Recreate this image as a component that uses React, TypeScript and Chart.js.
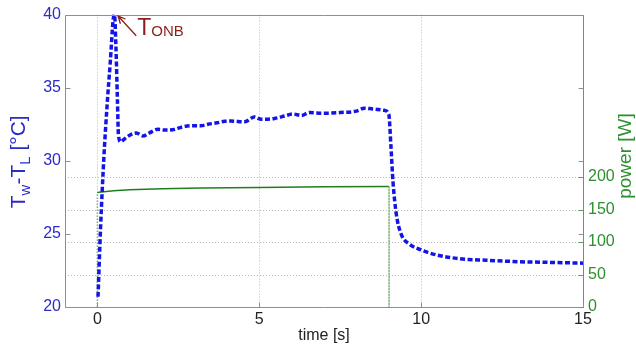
import { useEffect, useRef } from 'react';
import { Chart, registerables } from 'chart.js';

Chart.register(...registerables);

// Wall-to-liquid temperature difference over time
const timeS = [
  0.02, 0.1, 0.2, 0.3, 0.4, 0.49, 0.53, 0.57, 0.62, 0.65, 0.72, 0.84, 1.0, 1.2, 1.41, 1.6, 1.87,
  2.1, 2.39, 2.6, 2.9, 3.2, 3.42, 3.7, 3.93, 4.12, 4.55, 4.85, 5.06, 5.47, 5.78, 6.04, 6.3,
  6.55, 7.0, 7.5, 8.0, 8.25, 8.5, 8.87, 9.0, 9.07, 9.13, 9.23, 9.38, 9.64, 10.0, 10.5, 11.2,
  12.0, 13.0, 14.0, 15.0,
];
const tempDiffC = [
  20.7, 25.5, 30.2, 33.8, 36.8, 39.7, 40.0, 38.0, 34.1, 31.8, 31.3, 31.5, 31.75, 31.9, 31.7, 31.9, 32.15,
  32.1, 32.15, 32.3, 32.4, 32.4, 32.5, 32.6, 32.7, 32.72, 32.67, 33.0, 32.84, 32.9, 33.06, 33.2, 33.1,
  33.3, 33.25, 33.3, 33.4, 33.6, 33.55, 33.45, 33.2, 30.9, 28.6, 26.4, 25.0, 24.3, 23.9, 23.55, 23.3,
  23.2, 23.1, 23.05, 23.0,
];

// Heating power: switched on at 0 s, off at about 9 s
const powerTimeS = [0, 0, 0.05, 0.5, 1, 2, 3.2, 5, 7, 9.01, 9.01];
const powerW = [0, 176, 176.5, 179, 180.5, 182, 183, 184, 185, 185.5, 0];

const timeTicks = [0, 5, 10, 15];
const tempTicks = [20, 25, 30, 35, 40];
const powerTicks = [0, 50, 100, 150, 200];

const BLUE = '#1414e6';
const BLUE_TEXT = '#2b2bc8';
const GREEN = '#1f7f1f';
const GREEN_TEXT = '#2e8f2e';
const AXIS_GRAY = '#8f8f8f';
const GRID_GRAY = '#b8b8b8';
const RED = '#8c1e1e';
const FONT = '"Liberation Sans", Arial, sans-serif';

type Piece = { text: string; size: number; shift: number };

function drawPieces(ctx: CanvasRenderingContext2D, pieces: Piece[], color: string) {
  let total = 0;
  for (const p of pieces) {
    ctx.font = `${p.size}px ${FONT}`;
    total += ctx.measureText(p.text).width;
  }
  let x = -total / 2;
  ctx.fillStyle = color;
  ctx.textBaseline = 'alphabetic';
  ctx.textAlign = 'left';
  for (const p of pieces) {
    ctx.font = `${p.size}px ${FONT}`;
    ctx.fillText(p.text, x, p.shift);
    x += ctx.measureText(p.text).width;
  }
}

const framePlugin = {
  id: 'frame',
  beforeDatasetsDraw(chart: any) {
    const { ctx, chartArea: a, scales } = chart;
    const sx = scales.x;
    const sp = scales.y1;
    ctx.save();
    ctx.strokeStyle = GRID_GRAY;
    ctx.lineWidth = 1;
    ctx.setLineDash([1, 2]);
    for (const v of timeTicks) {
      const px = Math.round(sx.getPixelForValue(v)) + 0.5;
      if (px >= a.right - 1) continue;
      ctx.beginPath();
      ctx.moveTo(px, a.top);
      ctx.lineTo(px, a.bottom);
      ctx.stroke();
    }
    for (const v of powerTicks) {
      if (v === 0) continue;
      const py = Math.round(sp.getPixelForValue(v)) + 0.5;
      ctx.beginPath();
      ctx.moveTo(a.left, py);
      ctx.lineTo(a.right, py);
      ctx.stroke();
    }
    ctx.restore();
  },
  afterDatasetsDraw(chart: any) {
    const { ctx, chartArea: a, scales } = chart;
    const sx = scales.x;
    const st = scales.y;
    const sp = scales.y1;
    const L = Math.round(a.left) + 0.5;
    const R = Math.round(a.right) + 0.5;
    const T = Math.round(a.top) + 0.5;
    const B = Math.round(a.bottom) + 0.5;
    ctx.save();
    ctx.setLineDash([]);
    ctx.lineWidth = 1;

    // box
    ctx.strokeStyle = AXIS_GRAY;
    ctx.beginPath();
    ctx.moveTo(R, T);
    ctx.lineTo(L, T);
    ctx.lineTo(L, B);
    ctx.lineTo(R, B);
    ctx.stroke();
    ctx.strokeStyle = '#5aa05a';
    ctx.beginPath();
    ctx.moveTo(R, T);
    ctx.lineTo(R, B);
    ctx.stroke();

    // inward tick marks
    const len = 5;
    ctx.strokeStyle = AXIS_GRAY;
    for (const v of tempTicks) {
      const py = Math.round(st.getPixelForValue(v)) + 0.5;
      ctx.beginPath();
      ctx.moveTo(L, py);
      ctx.lineTo(L + len, py);
      ctx.moveTo(R, py);
      ctx.lineTo(R - len, py);
      ctx.stroke();
    }
    for (const v of timeTicks) {
      const px = Math.round(sx.getPixelForValue(v)) + 0.5;
      ctx.beginPath();
      ctx.moveTo(px, B);
      ctx.lineTo(px, B - len);
      ctx.stroke();
    }
    ctx.strokeStyle = '#5aa05a';
    for (const v of powerTicks) {
      const py = Math.round(sp.getPixelForValue(v)) + 0.5;
      ctx.beginPath();
      ctx.moveTo(R, py);
      ctx.lineTo(R - len, py);
      ctx.stroke();
    }

    // onset of nucleate boiling marker
    const hx = sx.getPixelForValue(0.64);
    const hy = st.getPixelForValue(39.9);
    const tx = sx.getPixelForValue(1.2);
    const ty = st.getPixelForValue(38.55);
    ctx.strokeStyle = RED;
    ctx.lineWidth = 1.3;
    ctx.beginPath();
    ctx.moveTo(tx, ty);
    ctx.lineTo(hx, hy);
    const ang = Math.atan2(hy - ty, hx - tx);
    const hl = 8;
    ctx.moveTo(hx - hl * Math.cos(ang - 0.45), hy - hl * Math.sin(ang - 0.45));
    ctx.lineTo(hx, hy);
    ctx.lineTo(hx - hl * Math.cos(ang + 0.45), hy - hl * Math.sin(ang + 0.45));
    ctx.stroke();
    ctx.fillStyle = RED;
    ctx.textAlign = 'left';
    ctx.textBaseline = 'alphabetic';
    ctx.font = `23px ${FONT}`;
    ctx.fillText('T', tx + 1, ty - 1);
    const tw = ctx.measureText('T').width;
    ctx.font = `15px ${FONT}`;
    ctx.fillText('ONB', tx + 1 + tw, ty);

    // left axis title
    ctx.save();
    ctx.translate(25, (a.top + a.bottom) / 2 + 1);
    ctx.rotate(-Math.PI / 2);
    drawPieces(
      ctx,
      [
        { text: 'T', size: 21, shift: 0 },
        { text: 'w', size: 15, shift: 5 },
        { text: '-T', size: 21, shift: 0 },
        { text: 'L', size: 15, shift: 5 },
        { text: ' [°C]', size: 21, shift: 0 },
      ],
      BLUE_TEXT
    );
    ctx.restore();

    // right axis title
    ctx.save();
    ctx.translate(631, 156);
    ctx.rotate(-Math.PI / 2);
    drawPieces(ctx, [{ text: 'power [W]', size: 19, shift: 0 }], GREEN_TEXT);
    ctx.restore();

    // bottom axis title
    ctx.save();
    ctx.translate((a.left + a.right) / 2, 340);
    drawPieces(ctx, [{ text: 'time [s]', size: 16, shift: 0 }], '#222');
    ctx.restore();

    ctx.restore();
  },
};

export default function App() {
  const canvasRef = useRef<HTMLCanvasElement | null>(null);

  useEffect(() => {
    const canvas = canvasRef.current;
    if (!canvas) return;
    const tempPoints = timeS.map((t, i) => ({ x: t, y: tempDiffC[i] }));
    const powerPoints = powerTimeS.map((t, i) => ({ x: t, y: powerW[i] }));

    const chart = new Chart(canvas, {
      type: 'line',
      data: {
        datasets: [
          {
            label: 'Tw-TL',
            data: tempPoints,
            yAxisID: 'y',
            borderColor: BLUE,
            borderWidth: 3.5,
            borderDash: [5, 2.5],
            borderCapStyle: 'butt',
            pointRadius: 0,
            cubicInterpolationMode: 'monotone',
            fill: false,
          },
          {
            label: 'power',
            data: powerPoints,
            yAxisID: 'y1',
            borderColor: GREEN,
            borderWidth: 1.5,
            pointRadius: 0,
            tension: 0,
            fill: false,
            segment: {
              borderDash: (c: any) => (c.p0.parsed.x === c.p1.parsed.x ? [1.5, 1.5] : undefined),
              borderColor: (c: any) => (c.p0.parsed.x === c.p1.parsed.x ? '#7fb27f' : undefined),
            },
          },
        ],
      },
      options: {
        animation: false,
        responsive: false,
        devicePixelRatio: 1,
        layout: { padding: { top: 13, left: 0, right: 0, bottom: 0 } },
        plugins: {
          legend: { display: false },
          tooltip: { enabled: false },
        },
        scales: {
          x: {
            type: 'linear',
            min: -1,
            max: 15,
            grid: { display: false, drawTicks: false },
            border: { display: false },
            afterBuildTicks: (s: any) => {
              s.ticks = timeTicks.map((v) => ({ value: v }));
            },
            afterFit: (s: any) => {
              s.height = 39;
            },
            ticks: {
              autoSkip: false,
              maxRotation: 0,
              padding: 3,
              color: '#222',
              font: { family: FONT, size: 16 },
            },
          },
          y: {
            type: 'linear',
            position: 'left',
            min: 20,
            max: 40,
            grid: { display: false, drawTicks: false },
            border: { display: false },
            afterBuildTicks: (s: any) => {
              s.ticks = tempTicks.map((v) => ({ value: v }));
            },
            afterFit: (s: any) => {
              s.width = 65;
            },
            ticks: {
              autoSkip: false,
              padding: 4,
              color: BLUE_TEXT,
              font: { family: FONT, size: 16 },
            },
          },
          y1: {
            type: 'linear',
            position: 'right',
            min: 0,
            max: 450,
            grid: { display: false, drawTicks: false },
            border: { display: false },
            afterBuildTicks: (s: any) => {
              s.ticks = powerTicks.map((v) => ({ value: v }));
            },
            afterFit: (s: any) => {
              s.width = 53;
            },
            ticks: {
              autoSkip: false,
              padding: 5,
              color: GREEN_TEXT,
              font: { family: FONT, size: 16 },
            },
          },
        },
      },
      plugins: [framePlugin],
    } as any);

    return () => chart.destroy();
  }, []);

  return (
    <div style={{ position: 'fixed', left: 0, top: 0, width: 636, height: 346, background: '#fff' }}>
      <canvas ref={canvasRef} width={636} height={346} style={{ display: 'block' }} />
    </div>
  );
}
